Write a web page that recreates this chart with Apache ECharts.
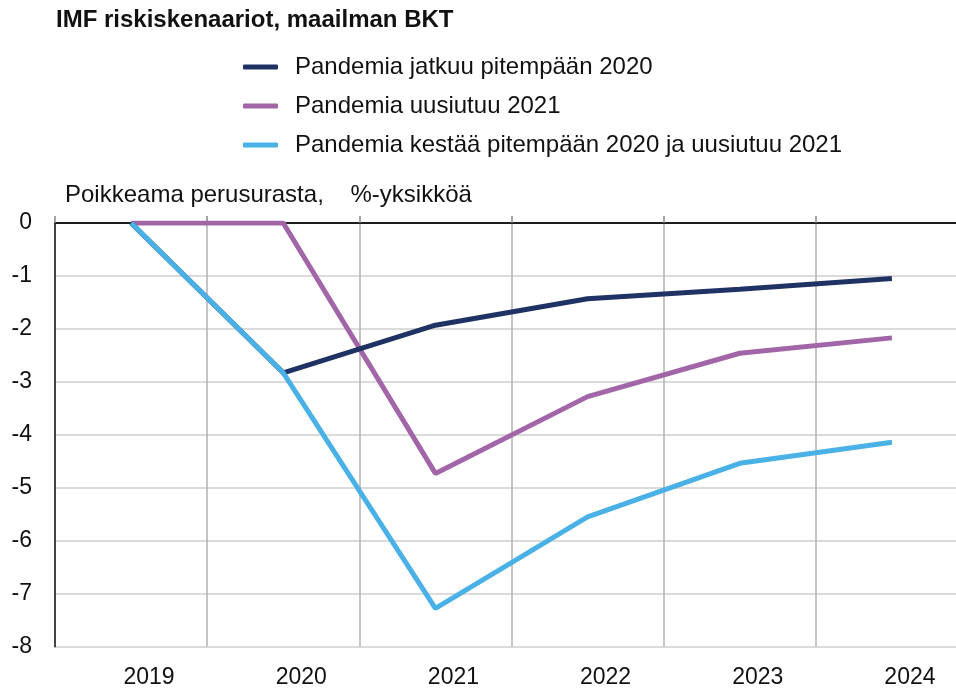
<!DOCTYPE html>
<html>
<head>
<meta charset="utf-8">
<script src="https://cdn.jsdelivr.net/npm/echarts@6/dist/echarts.min.js"></script>
<style>
  html, body { margin: 0; padding: 0; background: #fff; }
  #chart { width: 956px; height: 690px; }
</style>
</head>
<body>
<div id="chart"></div>
<script>
const years = ['2019', '2020', '2021', '2022', '2023', '2024']
const yTicks = [0, -1, -2, -3, -4, -5, -6, -7, -8]

const jatkuu2020 = [0, -2.83, -1.93, -1.43, -1.25, -1.05]
const uusiutuu2021 = [0, 0, -4.73, -3.28, -2.46, -2.17]
const molemmat = [0, -2.83, -7.28, -5.55, -4.54, -4.14]

const names = [
  'Pandemia jatkuu pitempään 2020',
  'Pandemia uusiutuu 2021',
  'Pandemia kestää pitempään 2020 ja uusiutuu 2021'
]
const colors = ['#1f3264', '#a266a8', '#4ab1e6']

const chart = echarts.init(document.getElementById('chart'), null, { renderer: 'canvas' })

const font = 'Liberation Sans, Arial, sans-serif'

const option = {
  animation: false,
  textStyle: { fontFamily: font },
  title: {
    text: 'IMF riskiskenaariot, maailman BKT',
    left: 51,
    top: 3,
    textStyle: { fontSize: 24, fontWeight: 'bold', color: '#111', fontFamily: font }
  },
  legend: {
    orient: 'vertical',
    left: 238,
    top: 50,
    itemWidth: 35,
    itemHeight: 5,
    itemGap: 15,
    icon: 'roundRect',
    textStyle: { fontSize: 24, color: '#111', lineHeight: 24, padding: [0, 0, 0, 12] },
    data: names
  },
  grid: {
    left: 55,
    top: 223,
    width: 913,
    height: 423.5,
    outerBoundsMode: 'none'
  },
  xAxis: [
    {
      type: 'category',
      data: years,
      position: 'bottom',
      boundaryGap: true,
      axisLine: { lineStyle: { color: '#444', width: 2 } },
      axisTick: { show: false },
      axisLabel: { fontSize: 23, color: '#111', margin: 20, padding: [0, 0, 0, 36] },
      splitLine: { show: true, lineStyle: { color: '#b0b0b0', width: 1.5 } }
    },
    {
      type: 'category',
      data: years,
      position: 'top',
      boundaryGap: true,
      axisLine: { lineStyle: { color: '#111', width: 1.5 } },
      axisTick: { show: true, length: 7, lineStyle: { color: '#888', width: 1.5 } },
      axisLabel: { show: false },
      splitLine: { show: false }
    }
  ],
  yAxis: {
    type: 'value',
    min: -8,
    max: 0,
    interval: 1,
    name: 'Poikkeama perusurasta,    %-yksikköä',
    nameLocation: 'end',
    nameGap: 16,
    nameTextStyle: { fontSize: 24, color: '#111', align: 'left', padding: [0, 0, 0, 10] },
    axisLine: { show: true, lineStyle: { color: '#444', width: 2 } },
    axisTick: { show: false },
    axisLabel: {
      fontSize: 23,
      color: '#111',
      margin: 23,
      formatter: v => (yTicks.includes(v) ? String(v) : '')
    },
    splitLine: { lineStyle: { color: '#cfcfcf', width: 1.5 } }
  },
  series: [
    { name: names[0], data: jatkuu2020, color: colors[0] },
    { name: names[1], data: uusiutuu2021, color: colors[1] },
    { name: names[2], data: molemmat, color: colors[2] }
  ].map((s, i) => ({
    name: s.name,
    type: 'line',
    data: s.data,
    z: i === 2 ? 15 : 10 - i,
    showSymbol: false,
    itemStyle: { color: s.color },
    lineStyle: { color: s.color, width: 5 }
  }))
}

chart.setOption(option)
</script>
</body>
</html>
